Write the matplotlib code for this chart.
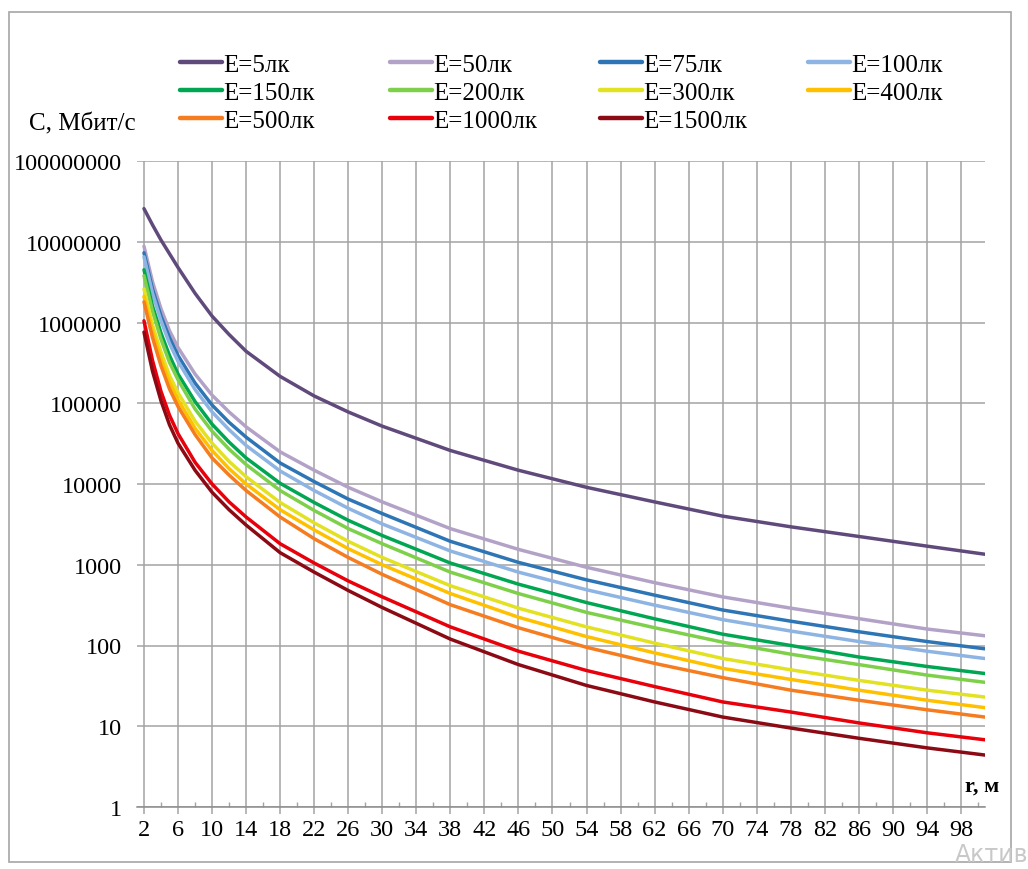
import matplotlib
matplotlib.use("Agg")
import matplotlib.pyplot as plt
from matplotlib.patches import Rectangle
from matplotlib.ticker import FixedLocator, NullLocator

plt.rcParams['font.family'] = ['Liberation Serif', 'DejaVu Serif']

# distance r, m (sample positions)
r = [2, 3, 4, 5, 6, 8, 10, 12, 14, 18, 22, 26, 30, 38, 46, 54, 62, 70, 78, 86, 94, 100.8]

# channel capacity C, Mbit/s, per illuminance
C_5 = [2.57e7, 1.62e7, 1.05e7, 7.1e6, 4.8e6, 2.3e6, 1.2e6, 7.1e5, 4.4e5, 2.15e5, 1.23e5, 7.8e4,
       5.2e4, 2.6e4, 1.48e4, 9100, 6000, 4000, 2950, 2240, 1700, 1350]
C_50 = [8.8e6, 3.2e6, 1.48e6, 7.9e5, 4.9e5, 2.3e5, 1.26e5, 7.8e4, 5.1e4, 2.5e4, 1.48e4, 9100,
        6000, 2800, 1550, 930, 600, 400, 290, 215, 160, 132]
C_75 = [7.3e6, 2.6e6, 1.2e6, 6.5e5, 3.9e5, 1.78e5, 9.5e4, 5.8e4, 3.8e4, 1.82e4, 1.07e4, 6500,
        4300, 1950, 1070, 650, 420, 275, 200, 148, 112, 91]
C_100 = [6.5e6, 2.3e6, 1.05e6, 5.5e5, 3.3e5, 1.48e5, 7.8e4, 4.7e4, 3.0e4, 1.45e4, 8300, 5000,
         3200, 1480, 810, 490, 316, 209, 151, 112, 85, 69]
C_150 = [4.5e6, 1.6e6, 7.4e5, 3.9e5, 2.3e5, 1.05e5, 5.5e4, 3.3e4, 2.1e4, 1.02e4, 5900, 3550,
         2300, 1050, 575, 340, 214, 138, 100, 72, 55, 45]
C_200 = [3.8e6, 1.38e6, 6.2e5, 3.2e5, 1.95e5, 8.5e4, 4.5e4, 2.7e4, 1.74e4, 8300, 4700, 2800,
         1820, 810, 440, 257, 166, 110, 78, 58, 43, 35]
C_300 = [2.6e6, 9.3e5, 4.3e5, 2.2e5, 1.35e5, 6.0e4, 3.2e4, 1.9e4, 1.23e4, 5900, 3300, 1950,
         1230, 550, 290, 170, 107, 69, 50, 37, 28, 23]
C_400 = [2.1e6, 7.8e5, 3.5e5, 1.82e5, 1.1e5, 4.9e4, 2.6e4, 1.55e4, 1.0e4, 4800, 2700, 1580,
         1000, 440, 224, 129, 81, 52, 38, 28, 21, 17]
C_500 = [1.8e6, 6.5e5, 2.9e5, 1.5e5, 9.1e4, 4.1e4, 2.1e4, 1.29e4, 8300, 3900, 2100, 1230,
         760, 320, 166, 95, 60, 40, 28, 21, 16, 13]
C_1000 = [1.05e6, 3.4e5, 1.4e5, 7.1e4, 4.2e4, 1.86e4, 1.0e4, 6000, 3900, 1820, 1050, 630,
          400, 170, 85, 49, 31, 20, 15, 11, 8.3, 6.8]
C_1500 = [7.6e5, 2.5e5, 1.07e5, 5.4e4, 3.2e4, 1.48e4, 7900, 4800, 3100, 1410, 810, 480,
          295, 120, 58, 32, 20, 13, 9.5, 7.1, 5.4, 4.4]

labels = ['E=5лк', 'E=50лк', 'E=75лк', 'E=100лк', 'E=150лк', 'E=200лк',
          'E=300лк', 'E=400лк', 'E=500лк', 'E=1000лк', 'E=1500лк']
series = [C_5, C_50, C_75, C_100, C_150, C_200, C_300, C_400, C_500, C_1000, C_1500]
colors = ['#604A7B', '#B3A2C7', '#2E75B6', '#8DB4E2', '#00A651', '#7ED04B',
          '#E2E223', '#FFC000', '#F57C1F', '#E8000B', '#8B0A14']

x_ticks = list(range(2, 99, 4))
x_minor = list(range(4, 101, 4))
y_ticks = [1, 10, 100, 1000, 10000, 100000, 1000000, 10000000, 100000000]
y_ticklabels = ['1', '10', '100', '1000', '10000', '100000', '1000000', '10000000', '100000000']

W, H = 1028, 870
fig = plt.figure(figsize=(W / 100, H / 100), dpi=100)

# outer frame
fig.patches.append(Rectangle((9 / W, 1 - 863 / H), (1011 - 9) / W, (863 - 13) / H,
                             transform=fig.transFigure, fill=False,
                             edgecolor='#A6A6A6', lw=1.2))

ax = fig.add_axes([137 / W, 1 - 808 / H, (985 - 137) / W, (808 - 162) / H])
ax.set_yscale('log')
ax.set_xlim(1.18, 100.82)
ax.set_ylim(1, 1e8)

handles = []
for vals, lab, col in zip(series, labels, colors):
    ln, = ax.plot(r, vals, color=col, lw=2.5, label=lab, zorder=3,
                  solid_capstyle='round', solid_joinstyle='round')
    handles.append(ln)

ax.yaxis.set_major_locator(FixedLocator(y_ticks))
ax.yaxis.set_minor_locator(NullLocator())
ax.set_yticklabels(y_ticklabels)
ax.xaxis.set_major_locator(FixedLocator(x_ticks))
ax.xaxis.set_minor_locator(FixedLocator(x_minor))
ax.set_xticklabels([str(v) for v in x_ticks])

ax.grid(True, which='major', color='#A3A3A3', lw=1.1, zorder=1)
ax.tick_params(axis='y', length=0, pad=11, labelsize=17.5)
ax.tick_params(axis='x', which='major', direction='out', length=5, width=1.1,
               color='#A3A3A3', pad=4, labelsize=17.5)
ax.tick_params(axis='x', which='minor', direction='in', length=3.5, width=1.0,
               color='#A3A3A3')
for s in ['left', 'top', 'right']:
    ax.spines[s].set_visible(False)
ax.spines['bottom'].set_color('#8C8C8C')
ax.spines['bottom'].set_linewidth(1.1)

fig.text(82 / W, 1 - 124 / H, 'C, Мбит/с', ha='center', va='center', fontsize=18)
fig.text(982 / W, 1 - 787 / H, 'r, м', ha='center', va='center', fontsize=16,
         fontweight='bold')

# legend: four columns, filled row by row
col_x = [180, 390, 600, 808]
col_items = [[0, 4, 8], [1, 5, 9], [2, 6, 10], [3, 7]]
for cx, items in zip(col_x, col_items):
    lg = fig.legend([handles[i] for i in items], [labels[i] for i in items],
                    loc='upper left', bbox_to_anchor=(cx / W, 1 - 54 / H),
                    frameon=False, fontsize=18, handlelength=1.68, handletextpad=0.06,
                    labelspacing=0.22, borderaxespad=0, borderpad=0)
    for lh in lg.get_lines():
        lh.set_linewidth(3.2)

fig.text(955 / W, 1 - 862 / H, 'Актив', ha='left', va='baseline',
         fontsize=17, color='#C8C8C8', family=['DejaVu Sans'])

fig.savefig('out.png', dpi=100)
